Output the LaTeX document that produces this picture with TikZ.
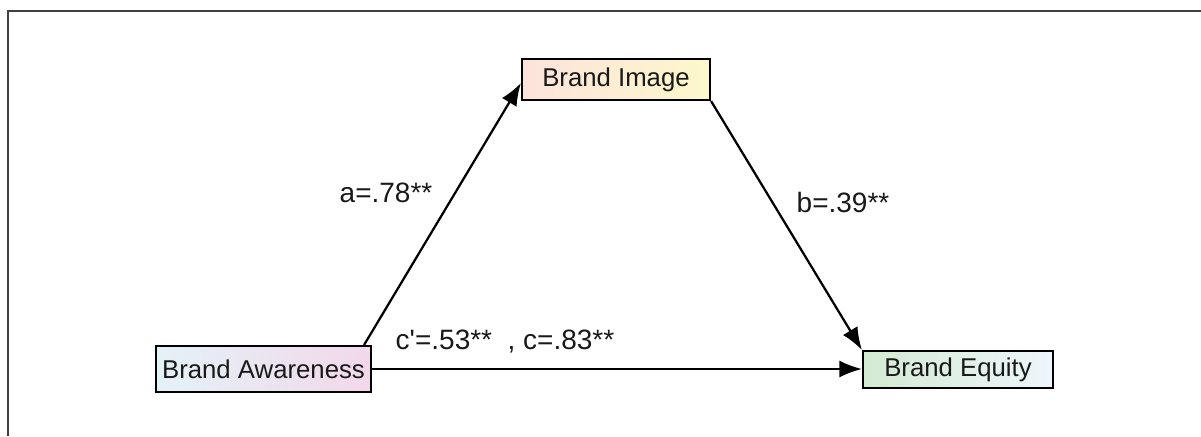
\documentclass[tikz,border=0pt]{standalone}
\usepackage{fontspec}
\newfontfamily\arialfont{Liberation Sans}
\usetikzlibrary{arrows.meta,positioning}

\definecolor{awareL}{HTML}{E4F2F7}
\definecolor{awareR}{HTML}{F2D8EA}
\definecolor{imageL}{HTML}{FCE3DC}
\definecolor{imageR}{HTML}{FDF8CB}
\definecolor{equityL}{HTML}{D4EAD2}
\definecolor{equityR}{HTML}{EEF6FC}

\begin{document}
\begin{tikzpicture}[x=0.4pt, y=-0.4pt,
  n/.style={draw, line width=0.85pt, inner sep=0pt, font=\arialfont\fontsize{10.3}{12}\selectfont, text=black!90},
  arr/.style={-{Latex[length=9pt,width=6.8pt]}, line width=0.9pt},
  lbl/.style={font=\arialfont\fontsize{11.2}{13}\selectfont, text=black!90}
]
\useasboundingbox (0,0) rectangle (1201,436);
\draw[line width=0.8pt, black!75] (8,436) -- (8,11) -- (1201,11);

\node[n, minimum width=86pt, minimum height=18.4pt, left color=awareL, right color=awareR] (aw) at (263.5,369) {Brand Awareness};
\node[n, minimum width=75.2pt, minimum height=16.4pt, left color=imageL, right color=imageR] (im) at (616,79.5) {Brand Image};
\node[n, minimum width=76pt, minimum height=14.8pt, left color=equityL, right color=equityR] (eq) at (958,369.5) {Brand Equity};

\draw[arr] ([xshift=-3.2pt]aw.north east) -- ([yshift=-1.4pt]im.west);
\draw[arr] (im.south east) -- (eq.north west);
\draw[arr] (aw.east) -- (aw.east -| eq.west);

\node[lbl] (la) at (386,193) {a=.78**};
\node[lbl] (lb) at (843,202) {b=.39**};
\node[lbl] (lc) at (505,342) {c'=.53**\ \ , c=.83**};
\end{tikzpicture}
\end{document}
